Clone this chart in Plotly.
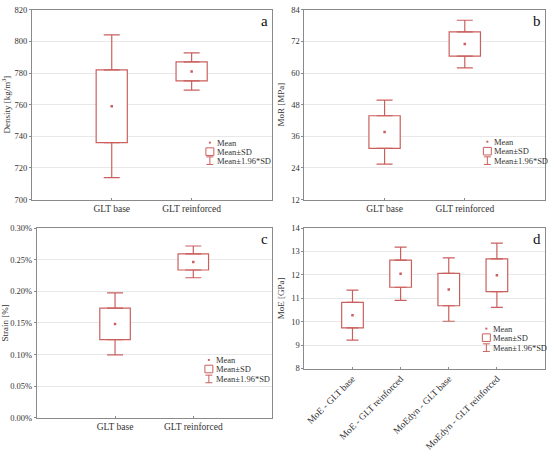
import plotly.graph_objects as go

# group labels
glt_cats = ["GLT base", "GLT reinforced"]
moe_cats = ["MoE - GLT base", "MoE - GLT reinforced",
            "MoEdyn - GLT base", "MoEdyn - GLT reinforced"]

# mean and standard deviation
density_mean = [759.0, 781.0]
density_sd = [23.0, 6.0]
mor_mean = [37.6, 71.0]
mor_sd = [6.2, 4.6]
strain_mean = [0.1485, 0.2465]   # in %
strain_sd = [0.025, 0.0128]
moe_mean = [10.28, 12.05, 11.37, 11.98]
moe_sd = [0.545, 0.58, 0.69, 0.70]

k = 1.96
red = "#C9605E"
W, H = 550, 452
font = "Liberation Serif"


def px(x):
    return x / W


def py(y):
    return 1 - y / H


fig = go.Figure()


def add_panel(n, cats, mean, sd, boxw, capw):
    xa = "x" if n == 1 else "x%d" % n
    ya = "y" if n == 1 else "y%d" % n
    lo = [m - s for m, s in zip(mean, sd)]
    hi = [m + s for m, s in zip(mean, sd)]
    ext = [(k - 1) * s for s in sd]
    zero = [0] * len(sd)
    # box = mean +- SD
    fig.add_trace(go.Bar(x=cats, y=[2 * s for s in sd], base=lo, width=boxw,
                         marker=dict(color="white", line=dict(color=red, width=1.2)),
                         xaxis=xa, yaxis=ya, showlegend=False, hoverinfo="skip"))
    # whiskers = mean +- 1.96 SD
    fig.add_trace(go.Scatter(x=cats, y=hi, mode="markers", marker=dict(opacity=0),
                             error_y=dict(type="data", symmetric=False, array=ext,
                                          arrayminus=zero, color=red, thickness=1.2,
                                          width=capw),
                             xaxis=xa, yaxis=ya, showlegend=False, hoverinfo="skip"))
    fig.add_trace(go.Scatter(x=cats, y=lo, mode="markers", marker=dict(opacity=0),
                             error_y=dict(type="data", symmetric=False, array=zero,
                                          arrayminus=ext, color=red, thickness=1.2,
                                          width=capw),
                             xaxis=xa, yaxis=ya, showlegend=False, hoverinfo="skip"))
    # mean point
    fig.add_trace(go.Scatter(x=cats, y=mean, mode="markers",
                             marker=dict(symbol="square", size=2.5, color=red),
                             xaxis=xa, yaxis=ya, showlegend=False))


add_panel(1, glt_cats, density_mean, density_sd, 0.39, 8)
add_panel(2, glt_cats, mor_mean, mor_sd, 0.39, 8)
add_panel(3, glt_cats, strain_mean, strain_sd, 0.39, 8)
add_panel(4, moe_cats, moe_mean, moe_sd, 0.45, 6)

axis_common = dict(showline=True, linecolor="#8a8a8a", linewidth=1, mirror=True,
                   tickfont=dict(family=font, size=8.5, color="#333"),
                   zeroline=False)
xcommon = dict(axis_common, showgrid=False, ticks="inside", ticklen=2,
               tickcolor="#8a8a8a", tickfont=dict(family=font, size=9.5, color="#333"))
ycommon = dict(axis_common, showgrid=True, gridcolor="#e8e8e8", gridwidth=1,
               ticks="outside", ticklen=2, tickcolor="#8a8a8a",
               title_font=dict(family=font, size=9, color="#333"), title_standoff=4)

fig.update_layout(
    width=W, height=H, margin=dict(l=0, r=0, t=0, b=0),
    paper_bgcolor="white", plot_bgcolor="white",
    font=dict(family=font, color="#333"),
    xaxis=dict(xcommon, domain=[px(29), px(270)], range=[-1, 2], anchor="y"),
    yaxis=dict(ycommon, domain=[py(205), py(5)], range=[700, 820], dtick=20,
               anchor="x", title_text="Density [kg/m<sup>3</sup>]"),
    xaxis2=dict(xcommon, domain=[px(303), px(545)], range=[-1, 2], anchor="y2"),
    yaxis2=dict(ycommon, domain=[py(205), py(5)], range=[12, 84], dtick=12,
                anchor="x2", title_text="MoR [MPa]"),
    xaxis3=dict(xcommon, domain=[px(34), px(270)], range=[-1, 2], anchor="y3"),
    yaxis3=dict(ycommon, domain=[py(435), py(235)], range=[0, 0.30], dtick=0.05,
                tickformat=".2f", ticksuffix="%", anchor="x3", title_text="Strain [%]"),
    xaxis4=dict(xcommon, domain=[px(303), px(545)], range=[-1, 4], anchor="y4",
                tickangle=-45),
    yaxis4=dict(ycommon, domain=[py(383), py(235)], range=[8, 14], dtick=1,
                anchor="x4", title_text="MoE [GPa]"),
)

shapes = []
annotations = []


def add_legend(sx, rows):
    r0, r1, r2 = rows
    shapes.append(dict(type="rect", xref="paper", yref="paper",
                       x0=px(sx - 1), x1=px(sx + 1), y0=py(r0 + 1), y1=py(r0 - 1),
                       fillcolor=red, line=dict(width=0)))
    shapes.append(dict(type="rect", xref="paper", yref="paper",
                       x0=px(sx - 4), x1=px(sx + 4), y0=py(r1 + 4), y1=py(r1 - 4),
                       line=dict(color=red, width=1)))
    shapes.append(dict(type="line", xref="paper", yref="paper",
                       x0=px(sx), x1=px(sx), y0=py(r2 + 4), y1=py(r2 - 4),
                       line=dict(color=red, width=1)))
    for yy in (r2 - 4, r2 + 4):
        shapes.append(dict(type="line", xref="paper", yref="paper",
                           x0=px(sx - 3.5), x1=px(sx + 3.5), y0=py(yy), y1=py(yy),
                           line=dict(color=red, width=1)))
    for txt, r in zip(["Mean", "Mean±SD", "Mean±1.96*SD"], rows):
        annotations.append(dict(text=txt, xref="paper", yref="paper",
                                x=px(sx + 5), y=py(r), xanchor="left", yanchor="middle",
                                showarrow=False,
                                font=dict(family=font, size=8.5, color="#333")))


add_legend(208, (145, 154.5, 164))
add_legend(487, (144, 154, 164))
add_legend(207, (374, 383.5, 394))
add_legend(486, (341, 350.5, 361))

for letter, xr, yt in [("a", 268, 6), ("b", 543, 6), ("c", 268, 236), ("d", 543, 236)]:
    annotations.append(dict(text=letter, xref="paper", yref="paper",
                            x=px(xr), y=py(yt), xanchor="right", yanchor="top",
                            showarrow=False, font=dict(family=font, size=15, color="#111")))

fig.update_layout(shapes=shapes, annotations=annotations)

# page body has a default margin; drop it so the 550x452 figure fills the window
fig.write_html("out.html", config={"displayModeBar": False},
               post_script="document.body.style.margin='0px';")
